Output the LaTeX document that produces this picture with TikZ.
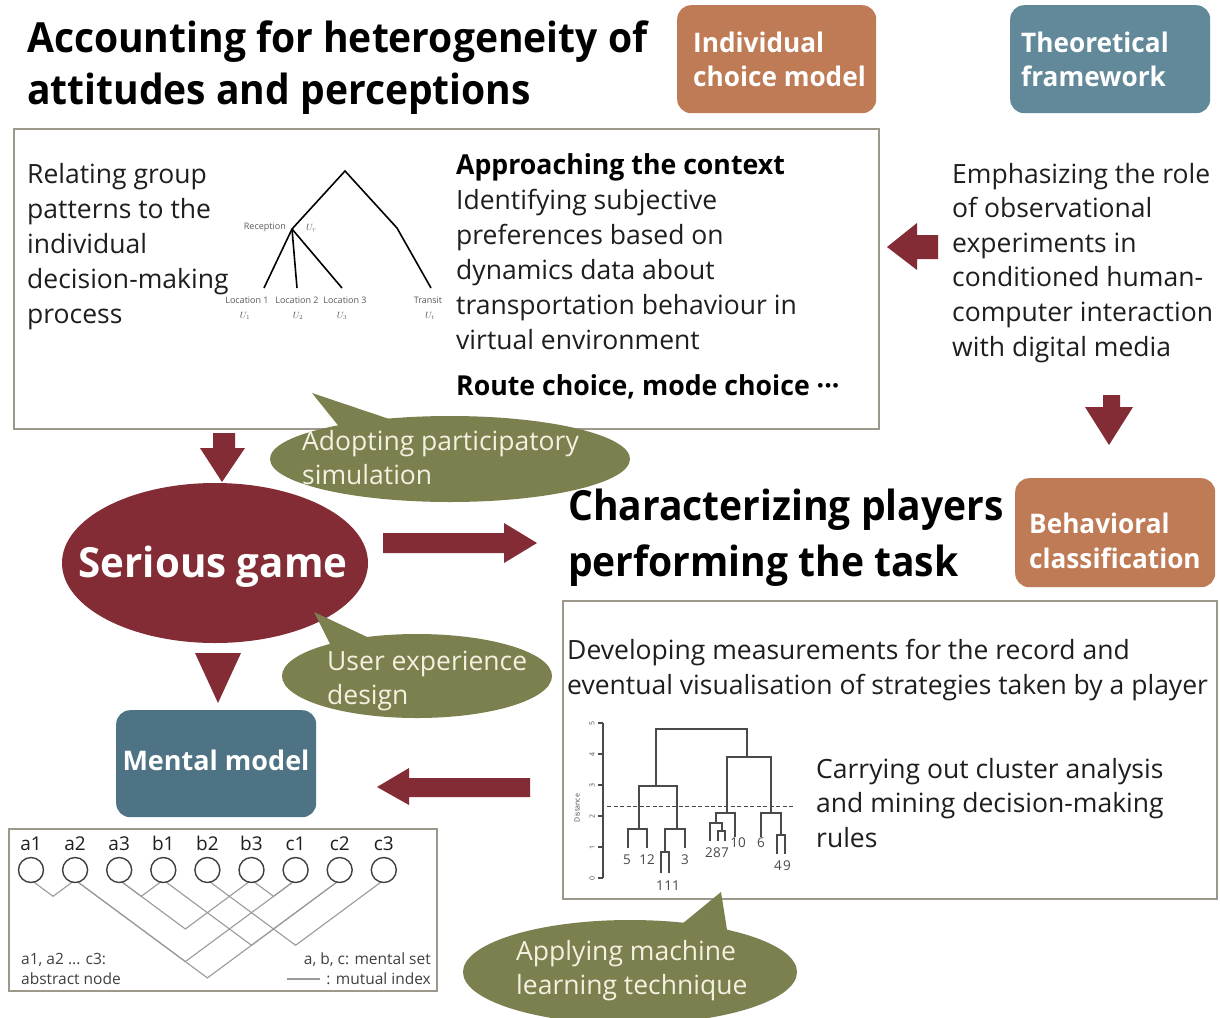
\documentclass[tikz,border=0pt]{standalone}
\usepackage{fontspec}
\setmainfont{Open Sans}[BoldFont={Open Sans Bold}]
\newfontfamily\headbold{Open Sans Bold}[FakeStretch=0.94]
\newfontfamily\tagbold{Open Sans Bold}[FakeStretch=0.97]
\usetikzlibrary{calc,shapes.geometric}

\definecolor{wine}{HTML}{832C35}
\definecolor{clay}{HTML}{BE7B55}
\definecolor{slate}{HTML}{62899A}
\definecolor{slatedark}{HTML}{4D7384}
\definecolor{moss}{HTML}{7C7F4E}
\definecolor{cream}{HTML}{F3F1DF}
\definecolor{frame}{HTML}{9E988C}
\definecolor{ink}{HTML}{1E1E1E}
\definecolor{plotgray}{HTML}{4A4A4A}
\definecolor{netgray}{HTML}{9A9A9A}

\begin{document}
\begin{tikzpicture}[x=1pt,y=-1pt,
  txt/.style={anchor=base west, inner sep=0pt, text=ink, font=\fontsize{26.5}{31}\selectfont},
  headline/.style={anchor=base west, inner sep=0pt, text=black, font=\headbold\fontsize{41.5}{48}\selectfont},
  subhead/.style={anchor=base west, inner sep=0pt, text=black, font=\tagbold\fontsize{27.5}{33}\selectfont},
  tagbox/.style={rectangle, rounded corners=14pt, inner sep=0pt, anchor=north west},
  tagtxt/.style={anchor=base west, inner sep=0pt, text=white, font=\tagbold\fontsize{27}{32}\selectfont},
  panel/.style={draw=frame, line width=1.8pt, fill=white, rectangle, inner sep=0pt, anchor=north west},
  bubble/.style={ellipse, fill=moss, inner sep=0pt},
  bubtxt/.style={txt, text=cream},
  blockarrow/.style={fill=wine},
  tinylbl/.style={inner sep=0pt, text=black!65, font=\fontsize{9}{10}\selectfont},
  plot/.style={draw=plotgray, line width=1.1pt},
  leaf/.style={anchor=base, inner sep=0pt, text=plotgray, font=\fontsize{13.5}{14}\selectfont},
  axislbl/.style={inner sep=0pt, rotate=90, text=plotgray, font=\fontsize{7}{8}\selectfont},
  mnode/.style={circle, draw=black!75, line width=1.4pt, fill=white, minimum size=25pt, inner sep=0pt},
  mlabel/.style={anchor=base, inner sep=0pt, text=ink, font=\fontsize{19}{22}\selectfont},
  legend/.style={inner sep=0pt, text=black!75, font=\fontsize{15.5}{18}\selectfont},
  link/.style={draw=netgray, line width=1.1pt},
]
\useasboundingbox (0,0) rectangle (1220,1017);
\fill[white] (0,0) rectangle (1220,1017);

% ---------- headings and tags ----------
\node[headline] (h1a) at (27,52) {Accounting for heterogeneity of};
\node[headline] (h1b) at (27,104) {attitudes and perceptions};
\node[headline] (h2a) at (568,520) {Characterizing players};
\node[headline] (h2b) at (568,576) {performing the task};

\node[tagbox, fill=clay, minimum width=199pt, minimum height=108pt] (indbox) at (677,5) {};
\node[tagtxt] (indt1) at (693,52) {Individual};
\node[tagtxt] (indt2) at (693,86) {choice model};

\node[tagbox, fill=slate, minimum width=200pt, minimum height=108pt] (theobox) at (1010,5) {};
\node[tagtxt] (theot1) at (1021,52) {Theoretical};
\node[tagtxt] (theot2) at (1021,86) {framework};

\node[tagbox, fill=clay, minimum width=200pt, minimum height=109pt] (behbox) at (1015,478) {};
\node[tagtxt] (beht1) at (1029,533) {Behavioral};
\node[tagtxt] (beht2) at (1029,568) {classification};

% ---------- context panel ----------
\node[panel, minimum width=865pt, minimum height=300pt] (ctx) at (13,128) {};
\foreach \t [count=\i] in {Relating group, patterns to the, individual, decision-making, process}
  \node[txt] (rel\i) at (27,183+35*\i-35) {\t};

% nested choice tree
\coordinate (apex) at (345,171);
\coordinate (rec) at (292,229);
\coordinate (bend) at (397,228);
\coordinate (loc1) at (264,288);
\coordinate (loc2) at (297,288);
\coordinate (loc3) at (342,288);
\coordinate (tra) at (431,288);
\draw[line width=1.6pt] (loc1) -- (rec) -- (apex) -- (bend) -- (tra);
\draw[line width=1.6pt] (rec) -- (loc2);
\draw[line width=1.6pt] (rec) -- (loc3);
\node[tinylbl, anchor=base east] (recl) at (286,229) {Reception};
\node[tinylbl, anchor=base west] (recu) at (306,230) {$U_r$};
\node[tinylbl, anchor=base] (l1) at (247,303) {Location 1};
\node[tinylbl, anchor=base] (l2) at (297,303) {Location 2};
\node[tinylbl, anchor=base] (l3) at (345,303) {Location 3};
\node[tinylbl, anchor=base] (lt) at (428,303) {Transit};
\node[tinylbl, anchor=base] (u1) at (245,318) {$U_1$};
\node[tinylbl, anchor=base] (u2) at (298,318) {$U_2$};
\node[tinylbl, anchor=base] (u3) at (342,318) {$U_3$};
\node[tinylbl, anchor=base] (ut) at (430,318) {$U_t$};

\node[subhead] (appr) at (456,174) {Approaching the context};
\foreach \t [count=\i] in {Identifying subjective, preferences based on, dynamics data about, transportation behaviour in, virtual environment}
  \node[txt] (id\i) at (456,174+35*\i) {\t};
\node[subhead] (route) at (456,395) {Route choice, mode choice ···};

% ---------- framework text ----------
\foreach \t [count=\i] in {Emphasizing the role, of observational, experiments in, conditioned human-, computer interaction, with digital media}
  \node[txt] (emp\i) at (952,183+34.6*\i-34.6) {\t};

% ---------- serious game ----------
\node[ellipse, fill=wine, minimum width=306pt, minimum height=160pt, inner sep=0pt] (game) at (215,563) {};
\node[anchor=base, inner sep=0pt, text=white, font=\tagbold\fontsize{41.5}{48}\selectfont] (gametxt) at (213,577) {Serious game};

% ---------- mental model ----------
\node[tagbox, fill=slatedark, minimum width=200pt, minimum height=107pt] (mentbox) at (116,710) {};
\node[anchor=base, inner sep=0pt, text=white, font=\bfseries\fontsize{27}{32}\selectfont] (menttxt) at (216,770) {Mental model};

% ---------- clustering panel ----------
\node[panel, minimum width=654pt, minimum height=298pt] (clu) at (562,600) {};
\node[txt] (dev1) at (567,659) {Developing measurements for the record and};
\node[txt] (dev2) at (567,694) {eventual visualisation of strategies taken by a player};
\foreach \t [count=\i] in {Carrying out cluster analysis, and mining decision-making, rules}
  \node[txt] (car\i) at (816,778+34.5*\i-34.5) {\t};

% dendrogram
\draw[plot] (603,723) -- (603,878);
\foreach \v in {0,...,5} {
  \draw[plot] (598,878-31*\v) -- (603,878-31*\v);
  \node[axislbl] (tick\v) at (592,878-31*\v) {\v};
}
\node[axislbl] (dist) at (577,808) {Distance};
\draw[plot] (656,786) |- (747,729) -- (747,757);
\draw[plot] (639,829) |- (677,786) -- (677,829);
\draw[plot] (628,848) |- (647,829) -- (647,848);
\draw[plot] (665,852) |- (685,829) -- (685,848);
\draw[plot] (661,873) |- (669,852) -- (669,873);
\draw[plot] (727,813) |- (771,757) -- (771,813);
\draw[plot] (716,823) |- (735,813) -- (735,837);
\draw[plot] (710,841) |- (722,823) -- (722,831);
\draw[plot] (718,841) |- (725,831) -- (725,841);
\draw[plot] (761,837) |- (781,813) -- (781,835);
\draw[plot] (777,854) |- (785,835) -- (785,854);
\draw[plot, dashed, dash pattern=on 4pt off 2.5pt, line width=0.9pt] (607,806) -- (793,806);
\node[leaf] (k5) at (627,864) {5};
\node[leaf] (k12) at (647,864) {12};
\node[leaf] (k3) at (685,864) {3};
\node[leaf] (k1) at (660,890) {1};
\node[leaf] (k11) at (672,890) {11};
\node[leaf] (k2) at (709,857) {2};
\node[leaf] (k8) at (717,857) {8};
\node[leaf] (k7) at (725,857) {7};
\node[leaf] (k10) at (738,847) {10};
\node[leaf] (k6) at (761,847) {6};
\node[leaf] (k4) at (778,870) {4};
\node[leaf] (k9) at (787,870) {9};

% ---------- mental set panel ----------
\node[panel, minimum width=428pt, minimum height=162pt] (ms) at (8,828) {};
\foreach \i in {1,...,9}
  \coordinate (p\i) at (31+44.1*\i-44.1,870);
\foreach \i/\j in {1/2,3/4,3/6,6/7,4/8,5/9,2/7,2/8} {
  \pgfmathsetmacro\xa{31+44.1*(\i-1)}
  \pgfmathsetmacro\xb{31+44.1*(\j-1)}
  \pgfmathsetmacro\xm{(\xa+\xb)/2}
  \pgfmathsetmacro\yd{880+0.74*(\xb-\xa)/2}
  \draw[link] ($(p\i)+(0,10)$) -- (\xm,\yd) -- ($(p\j)+(0,10)$);
}
\foreach \nm [count=\i] in {a1,a2,a3,b1,b2,b3,c1,c2,c3} {
  \node[mnode] (m\i) at (p\i) {};
  \node[mlabel] (ml\i) at ($(p\i)+(0,-20)$) {\nm};
}
\node[legend, anchor=base west] (lg1) at (21,964) {a1, a2 ... c3:};
\node[legend, anchor=base west] (lg2) at (21,984) {abstract node};
\node[legend, anchor=base east] (lg3) at (431,964) {a, b, c: mental set};
\node[legend, anchor=base east] (lg4) at (431,984) {: mutual index};
\draw[link] ($(lg4.base west)+(-39,-5)$) -- ($(lg4.base west)+(-6,-5)$);

% ---------- block arrows ----------
\fill[blockarrow] (887,247) -- (917,223) -- (917,235) -- (938,235) -- (938,259) -- (917,259) -- (917,270) -- cycle;
\fill[blockarrow] (213,433) -- (235,433) -- (235,448) -- (245,448) -- (222,482) -- (200,448) -- (213,448) -- cycle;
\fill[blockarrow] (1103,395) -- (1120,395) -- (1120,407) -- (1133,407) -- (1109,445) -- (1085,407) -- (1103,407) -- cycle;
\fill[blockarrow] (383,533) -- (504,533) -- (504,523) -- (537,543) -- (504,563) -- (504,553) -- (383,553) -- cycle;
\fill[blockarrow] (195,653) -- (241,653) -- (218,703) -- cycle;
\fill[blockarrow] (377,787) -- (409,768) -- (409,778) -- (530,778) -- (530,797) -- (409,797) -- (409,805) -- cycle;

% ---------- speech bubbles ----------
\node[bubble, minimum width=360pt, minimum height=86pt] (adopt) at (450,459) {};
\fill[moss] (312,393) -- (345,434) -- (404,424) -- cycle;
\node[bubtxt] (adt1) at (302,450) {Adopting participatory};
\node[bubtxt] (adt2) at (302,484) {simulation};

\node[bubble, minimum width=270pt, minimum height=84pt] (ux) at (417,676) {};
\fill[moss] (314,612) -- (333,650) -- (382,644) -- cycle;
\node[bubtxt] (uxt1) at (327,670) {User experience};
\node[bubtxt] (uxt2) at (327,704) {design};

\node[bubble, minimum width=334pt, minimum height=104pt] (ml) at (630,972) {};
\fill[moss] (721,892) -- (660,942) -- (728,936) -- cycle;
\node[bubtxt] (mlt1) at (516,960) {Applying machine};
\node[bubtxt] (mlt2) at (516,994) {learning technique};

\end{tikzpicture}
\end{document}
